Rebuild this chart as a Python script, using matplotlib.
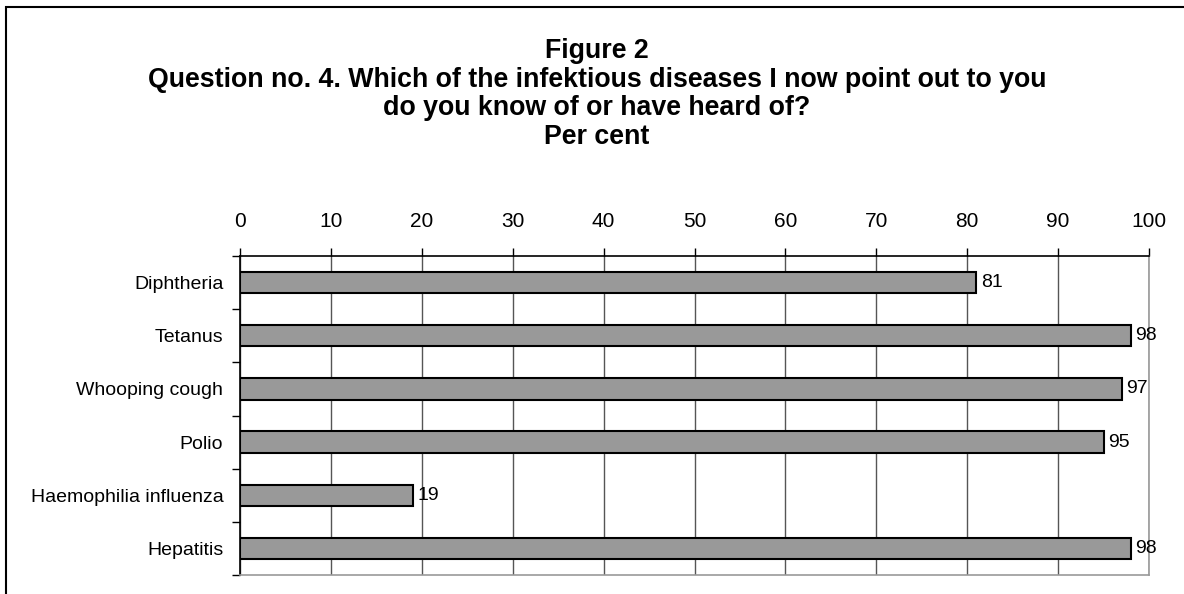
#!/usr/bin/env python
import matplotlib
matplotlib.use('Agg')
import numpy as np
from matplotlib import pyplot as plt
from matplotlib.patches import Rectangle

# Survey data: share of respondents who know of each disease (per cent)
diseases = ['Diphtheria', 'Tetanus', 'Whooping cough', 'Polio',
            'Haemophilia influenza', 'Hepatitis']
percent = [81, 98, 97, 95, 19, 98]
x_ticks = [0, 10, 20, 30, 40, 50, 60, 70, 80, 90, 100]

title_lines = ['Figure 2',
               'Question no. 4. Which of the infektious diseases I now point out to you',
               'do you know of or have heard of?',
               'Per cent']


def main():
    plt.rcParams['font.family'] = ['Liberation Sans', 'DejaVu Sans']

    fig = plt.figure(figsize=[11.84, 5.94], dpi=100)
    W, H = 1184, 594

    # outer chart frame
    fig.patches.append(Rectangle((6 / W, -0.05), 1.2, (594 - 7) / H + 0.05,
                                 transform=fig.transFigure, fill=False,
                                 edgecolor='black', linewidth=1.5))

    # title block
    fig.text(597 / W, 1 - 94 / H, '\n'.join(title_lines), ha='center', va='center',
             fontsize=19.3, fontweight='bold', linespacing=1.13)

    ax = fig.add_axes([240 / W, 1 - 575 / H, (1149 - 240) / W, (575 - 256) / H])

    y = np.arange(len(diseases))
    ax.barh(y, percent, height=0.4, color='#999999', edgecolor='black',
            linewidth=1.5, zorder=3)
    for yi, v in zip(y, percent):
        ax.text(v + 0.5, yi, str(v), va='center', ha='left', fontsize=14, zorder=4)

    ax.set_xlim(0, 100)
    ax.set_ylim(len(diseases) - 0.5, -0.5)
    ax.xaxis.tick_top()
    ax.set_xticks(x_ticks)
    ax.set_xticklabels([str(t) for t in x_ticks], fontsize=15)
    ax.tick_params(axis='x', direction='out', length=6, width=1, pad=12)
    ax.grid(axis='x', color='#555555', linewidth=1, zorder=1)

    # category ticks sit on the band boundaries, labels at band centres
    ax.set_yticks(np.arange(len(diseases) + 1) - 0.5)
    ax.set_yticklabels([])
    ax.set_yticks(y, minor=True)
    ax.set_yticklabels(diseases, minor=True, fontsize=14)
    ax.tick_params(axis='y', which='major', direction='out', length=6, width=1)
    ax.tick_params(axis='y', which='minor', length=0, pad=12)

    ax.spines['top'].set_color('black')
    ax.spines['left'].set_color('black')
    ax.spines['right'].set_color('#999999')
    ax.spines['bottom'].set_color('#999999')
    for s in ax.spines.values():
        s.set_linewidth(1.2)

    fig.savefig('out.png', dpi=100)


if __name__ == '__main__':
    main()
